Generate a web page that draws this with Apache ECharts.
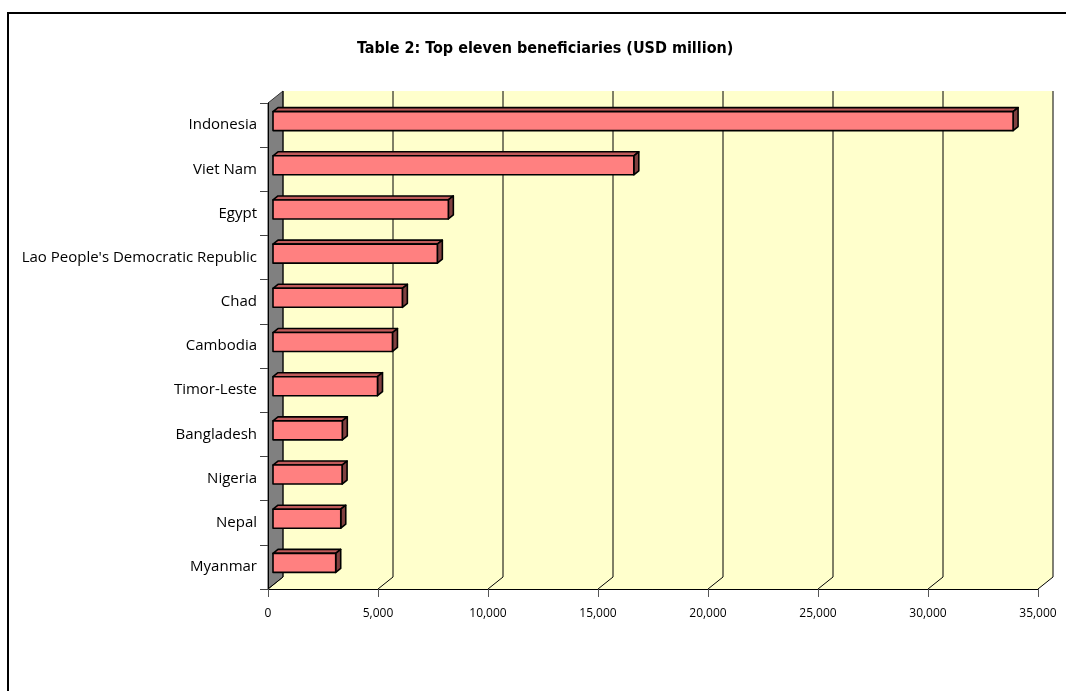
<!DOCTYPE html>
<html>
<head>
<meta charset="utf-8">
<script src="https://cdn.jsdelivr.net/npm/echarts@6/dist/echarts.min.js"></script>
<style>
  html, body { margin: 0; padding: 0; background: #fff; }
  #chart { width: 1066px; height: 691px; }
</style>
</head>
<body>
<div id="chart"></div>
<script>
// data (USD million)
const countries = ['Indonesia', 'Viet Nam', 'Egypt', "Lao People's Democratic Republic", 'Chad',
  'Cambodia', 'Timor-Leste', 'Bangladesh', 'Nigeria', 'Nepal', 'Myanmar'];
const values = [33640, 16400, 7970, 7470, 5880, 5430, 4750, 3150, 3140, 3080, 2850];
const xTicks = [0, 5000, 10000, 15000, 20000, 25000, 30000, 35000];

// fake 3D depth: walls go back 15px right / 12px up, bars sit in the middle third
const WALL_DX = 15, WALL_DY = 12;
const BAR_DX = 5, BAR_DY = 4;

const chart = echarts.init(document.getElementById('chart'));

function renderWalls(params, api) {
  const cs = params.coordSys;
  const x = cs.x, y = cs.y, w = cs.width, h = cs.height;
  const children = [];
  // back wall + floor
  children.push({
    type: 'rect',
    shape: { x: x + WALL_DX, y: y - WALL_DY, width: w, height: h },
    style: { fill: '#FFFFCC' }
  });
  children.push({
    type: 'polygon',
    shape: { points: [[x, y + h], [x + w, y + h], [x + w + WALL_DX, y + h - WALL_DY], [x + WALL_DX, y + h - WALL_DY]] },
    style: { fill: '#FFFFCC' }
  });
  // grey side wall
  children.push({
    type: 'polygon',
    shape: { points: [[x, y], [x + WALL_DX, y - WALL_DY], [x + WALL_DX, y + h - WALL_DY], [x, y + h]] },
    style: { fill: '#808080', stroke: '#333', lineWidth: 1 }
  });
  // grid lines on floor and back wall
  xTicks.forEach(t => {
    const px = api.coord([t, 0])[0];
    children.push({
      type: 'polyline',
      shape: { points: [[px, y + h], [px + WALL_DX, y + h - WALL_DY], [px + WALL_DX, y - WALL_DY]] },
      style: { stroke: '#000', lineWidth: 1, fill: null }
    });
  });
  return { type: 'group', children: children };
}

function renderBar(params, api) {
  const v = api.value(0);
  const i = api.value(1);
  const p0 = api.coord([0, i]);
  const p1 = api.coord([v, i]);
  const band = api.size([0, 1])[1];
  const half = band * 0.43 / 2;
  const x0 = p0[0] + BAR_DX, x1 = p1[0] + BAR_DX;
  const cy = p0[1] - BAR_DY;
  const yt = cy - half, yb = cy + half;
  const line = { stroke: '#000', lineWidth: 1.6, lineJoin: 'round' };
  return {
    type: 'group',
    children: [
      {
        type: 'polygon',
        shape: { points: [[x0, yt], [x1, yt], [x1 + BAR_DX, yt - BAR_DY], [x0 + BAR_DX, yt - BAR_DY]] },
        style: Object.assign({ fill: '#C05A5A' }, line)
      },
      {
        type: 'polygon',
        shape: { points: [[x1, yt], [x1 + BAR_DX, yt - BAR_DY], [x1 + BAR_DX, yb - BAR_DY], [x1, yb]] },
        style: Object.assign({ fill: '#804040' }, line)
      },
      {
        type: 'rect',
        shape: { x: x0, y: yt, width: x1 - x0, height: yb - yt },
        style: Object.assign({ fill: '#FF8080' }, line)
      }
    ]
  };
}

chart.setOption({
  animation: false,
  title: {
    text: 'Table 2: Top eleven beneficiaries (USD million)',
    left: 352,
    top: 36,
    textStyle: {
      fontFamily: "'DejaVu Sans Condensed', 'Liberation Sans Narrow', 'Liberation Sans', sans-serif",
      fontWeight: 'bold', fontSize: 16, color: '#000'
    }
  },
  graphic: [{
    type: 'rect',
    shape: { x: 8, y: 13, width: 1100, height: 700 },
    style: { fill: null, stroke: '#000', lineWidth: 2 },
    silent: true
  }],
  grid: { left: 268, right: 28, top: 103, bottom: 102 },
  xAxis: {
    type: 'value',
    min: 0,
    max: 35000,
    interval: 5000,
    z: 10,
    axisLine: { show: true, lineStyle: { color: '#000', width: 1 } },
    axisTick: { show: true, length: 8, lineStyle: { color: '#555' } },
    splitLine: { show: false },
    axisLabel: {
      margin: 19,
      fontFamily: 'Open Sans',
      fontSize: 12,
      color: '#000',
      formatter: v => v.toLocaleString('en-US')
    }
  },
  yAxis: {
    type: 'category',
    data: countries,
    inverse: true,
    z: 10,
    axisLine: { show: true, lineStyle: { color: '#000', width: 1 } },
    axisTick: { show: true, length: 8, lineStyle: { color: '#444' } },
    axisLabel: { margin: 11, fontFamily: 'Open Sans', fontSize: 15, color: '#000' }
  },
  series: [
    {
      type: 'custom',
      z: 1,
      silent: true,
      data: [[0, 0]],
      encode: { x: 0, y: 1 },
      renderItem: renderWalls
    },
    {
      type: 'custom',
      name: 'USD million',
      z: 3,
      data: values.map((v, i) => [v, i]),
      encode: { x: 0, y: 1 },
      renderItem: renderBar
    }
  ]
});
</script>
</body>
</html>
